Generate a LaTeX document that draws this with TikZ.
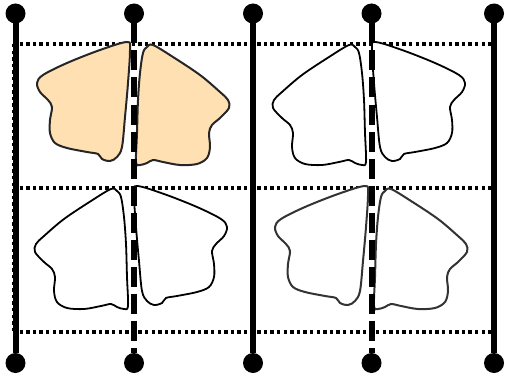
\documentclass[tikz,border=0pt]{standalone}
\usepackage{tikz}
\usetikzlibrary{positioning}

\definecolor{wingfill}{RGB}{255,224,178}

\tikzset{
  knob/.style={circle, fill=black, minimum size=20pt, inner sep=0pt, outer sep=0pt},
  rail/.style={line width=6pt},
  dashrail/.style={line width=6pt, dash pattern=on 20pt off 7pt},
  gridline/.style={line width=3.5pt, dash pattern=on 3.4pt off 3.2pt},
  % one pair of wings, centred on the rail
  wings/.pic={
    \draw[pic actions] plot[smooth cycle, tension=0.55] coordinates {
      (-5,-58) (-32,-50) (-65,-37) (-89,-25) (-95,-17) (-92,-8) (-84,0)
      (-80,7) (-82,20) (-82,33) (-77,43) (-65,48) (-45,52) (-34,54)
      (-30,59) (-22,61) (-15,57) (-10,47) (-7,17) (-4,-17) (-2,-50)};
    \draw[pic actions] plot[smooth cycle, tension=0.55] coordinates {
      (15,-53) (21,-55) (41,-43) (68,-25) (88,-8) (96,0) (97,8) (88,18)
      (80,25) (77,33) (78,47) (75,58) (65,64) (48,65) (31,62) (21,60)
      (15,63) (8,65) (4,62) (5,33) (6,0) (8,-27) (11,-47)};
  }
}

\begin{document}
\begin{tikzpicture}[x=1pt,y=-1pt]

  \useasboundingbox (0,0) rectangle (505,377);

  % dotted grid
  \coordinate (g1) at (13,44);
  \coordinate (g2) at (492,44);
  \coordinate (g3) at (13,188);
  \coordinate (g4) at (492,188);
  \coordinate (g5) at (13,332);
  \coordinate (g6) at (492,332);

  \draw[gridline] (g1) -- (g2);
  \draw[gridline] (g3) -- (g4);
  \draw[gridline] (g5) -- (g6);
  \draw[gridline, line width=3pt] (g1) -- (g5);

  % wings
  \pic[draw=black!85, fill=wingfill, line width=2pt] at (132,100) {wings};
  \pic[xscale=-1, draw=black, fill=white, line width=1.8pt] at (370,100) {wings};
  \pic[xscale=-1, draw=black, fill=white, line width=1.8pt] at (132,244) {wings};
  \pic[draw=black!80, fill=white, line width=2pt] at (370,244) {wings};

  % rails and their end knobs
  \node[knob] (t1) at (15.5,13.5) {};
  \node[knob] (t2) at (134,13.5) {};
  \node[knob] (t3) at (253,13.5) {};
  \node[knob] (t4) at (371.5,13.5) {};
  \node[knob] (t5) at (494,13.5) {};

  \node[knob] (b1) at (15.5,363) {};
  \node[knob] (b2) at (134,363) {};
  \node[knob] (b3) at (253,363) {};
  \node[knob] (b4) at (371.5,363) {};
  \node[knob] (b5) at (494,363) {};

  \draw[rail] (t1) -- (b1);
  \draw[rail] (t3) -- (b3);
  \draw[rail] (t5) -- (b5);
  \draw[dashrail] (t2.south) -- (b2.north);
  \draw[dashrail] (t4.south) -- (b4.north);

\end{tikzpicture}
\end{document}
